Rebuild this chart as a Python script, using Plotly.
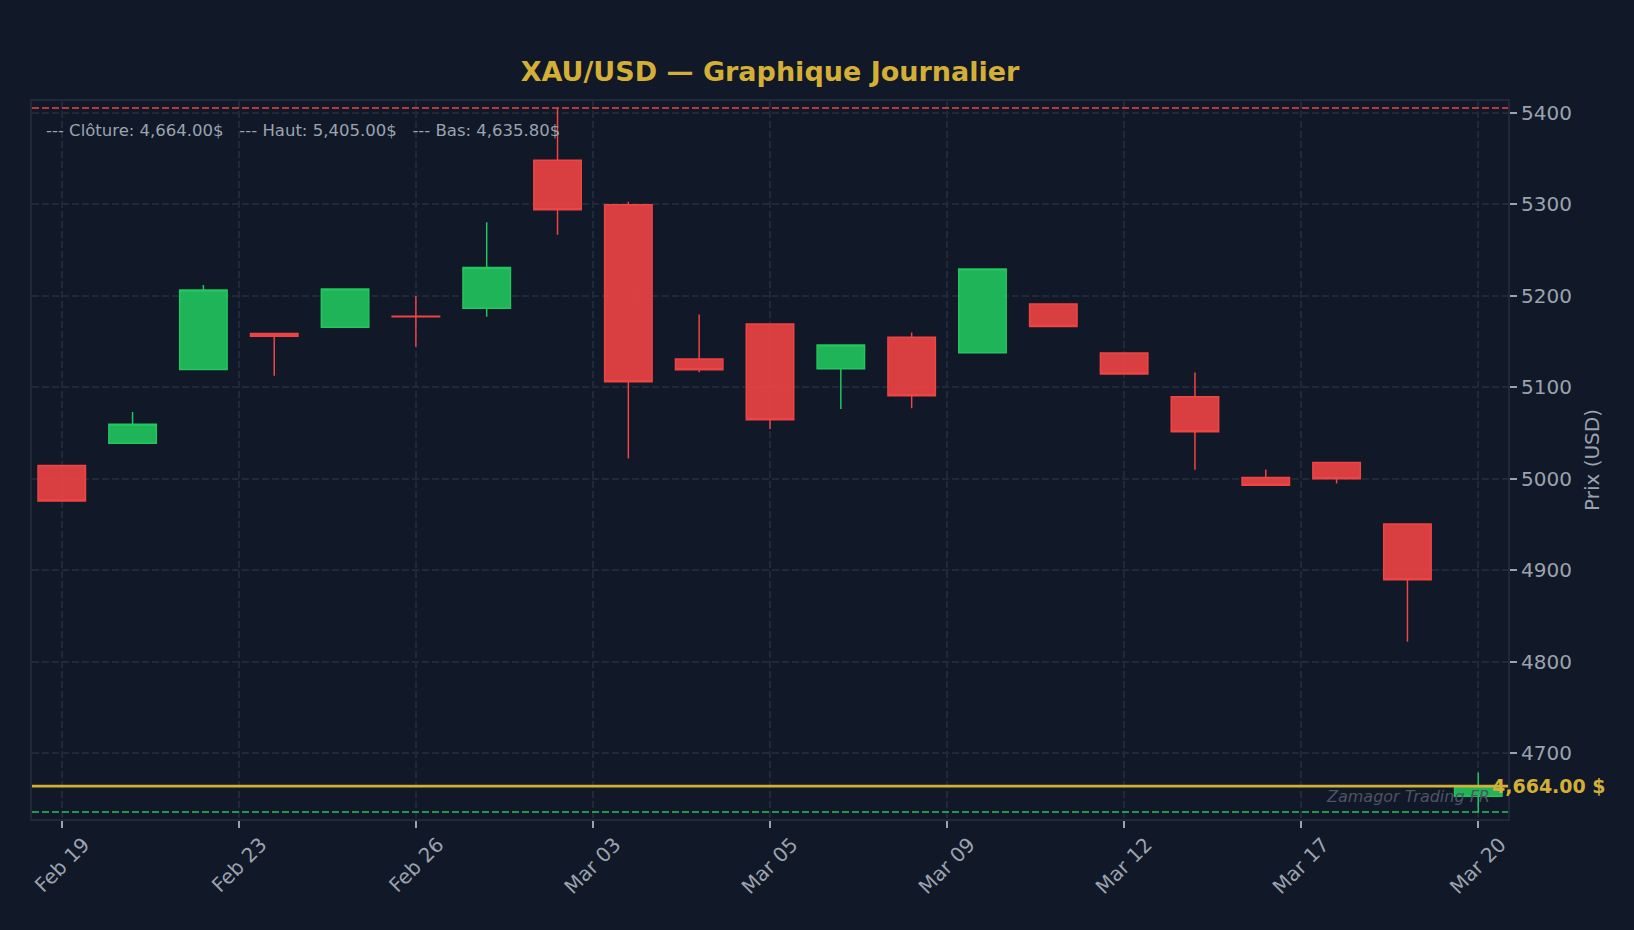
import numpy as np
import pandas as pd
import plotly.graph_objects as go

# ---- data ----
dates = ["2026-02-19", "2026-02-20", "2026-02-23", "2026-02-24", "2026-02-25",
         "2026-02-26", "2026-02-27", "2026-03-02", "2026-03-03", "2026-03-04",
         "2026-03-05", "2026-03-06", "2026-03-09", "2026-03-10", "2026-03-11",
         "2026-03-12", "2026-03-13", "2026-03-16", "2026-03-17", "2026-03-18",
         "2026-03-20"]
opens  = [5014.5, 5038.6, 5119.4, 5158.6, 5165.5, 5177.5, 5186.1, 5348.0, 5299.3, 5130.9,
          5169.1, 5120.0, 5154.5, 5137.5, 5191.0, 5137.3, 5089.5, 5001.4, 5017.8, 4950.4,
          4653.0]
highs  = [5015.0, 5072.8, 5211.5, 5159.0, 5207.5, 5199.5, 5280.3, 5405.0, 5302.5, 5179.3,
          5169.5, 5146.5, 5159.6, 5229.5, 5191.5, 5137.8, 5115.9, 5010.1, 5018.2, 4951.0,
          4679.0]
lows   = [4975.0, 5038.0, 5119.0, 5112.5, 5165.0, 5144.2, 5177.0, 5266.5, 5022.0, 5116.4,
          5054.2, 5076.0, 5077.0, 5137.0, 5166.0, 5114.2, 5009.8, 4992.5, 4994.6, 4821.8,
          4635.8]
closes = [4975.5, 5059.4, 5206.1, 5155.6, 5207.2, 5177.0, 5230.8, 5293.8, 5105.8, 5118.9,
          5064.4, 5146.2, 5090.5, 5229.1, 5166.2, 5114.5, 5051.4, 4992.8, 5000.0, 4889.5,
          4664.0]

last_close = 4664.00
period_high = 5405.00
period_low = 4635.80

title_text = "XAU/USD — Graphique Journalier"
y_title = "Prix (USD)"
watermark = "Zamagor Trading FR"

# ---- styling ----
BG = "#111827"
GRID = "#1f2937"
TXT = "#9ca3af"
GOLD = "#d4af37"
GREEN = "#22c55e"
RED = "#ef4444"
FONT = "DejaVu Sans"

n = len(dates)
idx = list(range(n))
dt = pd.to_datetime(dates)
tick_pos = list(np.linspace(0, n - 1, 9))
tick_txt = [dt[int(round(p))].strftime("%b %d") for p in tick_pos]

lo, hi = min(lows), max(highs)
pad = (hi - lo) * 0.01

fig = go.Figure(go.Candlestick(
    x=idx, open=opens, high=highs, low=lows, close=closes,
    increasing=dict(line=dict(color=GREEN, width=1.5), fillcolor="rgba(34,197,94,0.9)"),
    decreasing=dict(line=dict(color=RED, width=1.5), fillcolor="rgba(239,68,68,0.9)"),
    whiskerwidth=0, showlegend=False, hoverinfo="x+y",
))

shapes = [
    dict(type="line", xref="paper", x0=0, x1=1, yref="y", y0=period_high, y1=period_high,
         line=dict(color=RED, width=1.5, dash="7px,3px"), layer="above"),
    dict(type="line", xref="paper", x0=0, x1=1, yref="y", y0=period_low, y1=period_low,
         line=dict(color=GREEN, width=1.5, dash="7px,3px"), layer="above"),
    dict(type="line", xref="paper", x0=0, x1=1, yref="y", y0=last_close, y1=last_close,
         line=dict(color=GOLD, width=2.7), layer="above"),
]

sp = "\u00a0" * 3
legend_txt = (f"---{chr(160)}Clôture: {last_close:,.2f}${sp}"
              f"---{chr(160)}Haut: {period_high:,.2f}${sp}"
              f"---{chr(160)}Bas: {period_low:,.2f}$")

annotations = [
    dict(xref="paper", x=1, yref="y", y=last_close, xanchor="left", yanchor="middle",
         xshift=-18, text=f"<b>{last_close:,.2f} $</b>", showarrow=False,
         font=dict(family=FONT, size=19, color=GOLD)),
    dict(xref="paper", x=1, yref="paper", y=0.032, xanchor="right", yanchor="middle",
         xshift=-16, text=f"<i>{watermark}</i>", showarrow=False,
         font=dict(family=FONT, size=16, color="#4b5563")),
    dict(xref="paper", x=0, yref="paper", y=0.9596, xanchor="left", yanchor="middle",
         xshift=12, text=legend_txt, showarrow=False,
         font=dict(family=FONT, size=16.5, color=TXT)),
]

fig.update_layout(
    width=1634, height=930,
    paper_bgcolor=BG, plot_bgcolor=BG,
    margin=dict(l=32, r=126, t=101, b=111, pad=0),
    font=dict(family=FONT, color=TXT),
    title=dict(text=f"<b>{title_text}</b>", x=0.5, xref="paper", xanchor="center",
               y=1 - 72 / 930, yref="container", yanchor="middle",
               font=dict(family=FONT, size=27, color=GOLD)),
    shapes=shapes, annotations=annotations,
    boxgap=0.33, boxgroupgap=0,
    xaxis=dict(
        range=[-0.42, n - 1 + 0.42], rangeslider=dict(visible=False),
        tickmode="array", tickvals=tick_pos, ticktext=tick_txt, tickangle=-45,
        ticks="outside", ticklen=7, tickwidth=1.5, tickcolor=TXT,
        tickfont=dict(family=FONT, size=20, color=TXT),
        showgrid=True, gridcolor=GRID, griddash="7px,3px", gridwidth=1.5,
        showline=True, mirror=True, linecolor=GRID, linewidth=2, zeroline=False,
        ticklabelshift=22, ticklabelstandoff=-3,
    ),
    yaxis=dict(
        side="right", range=[lo - pad, hi + pad], dtick=100, tick0=0,
        ticks="outside", ticklen=7, tickwidth=1.5, tickcolor=TXT,
        tickfont=dict(family=FONT, size=20, color=TXT),
        showgrid=True, gridcolor=GRID, griddash="7px,3px", gridwidth=1.5,
        showline=True, mirror=True, linecolor=GRID, linewidth=2, zeroline=False,
        title=dict(text=y_title, font=dict(family=FONT, size=20, color=TXT), standoff=14),
    ),
)

fig.write_html(
    "out.html",
    config={"displayModeBar": False},
    post_script="document.body.style.margin='0';document.body.style.background='#111827';"
                "document.body.style.overflow='hidden';",
)
